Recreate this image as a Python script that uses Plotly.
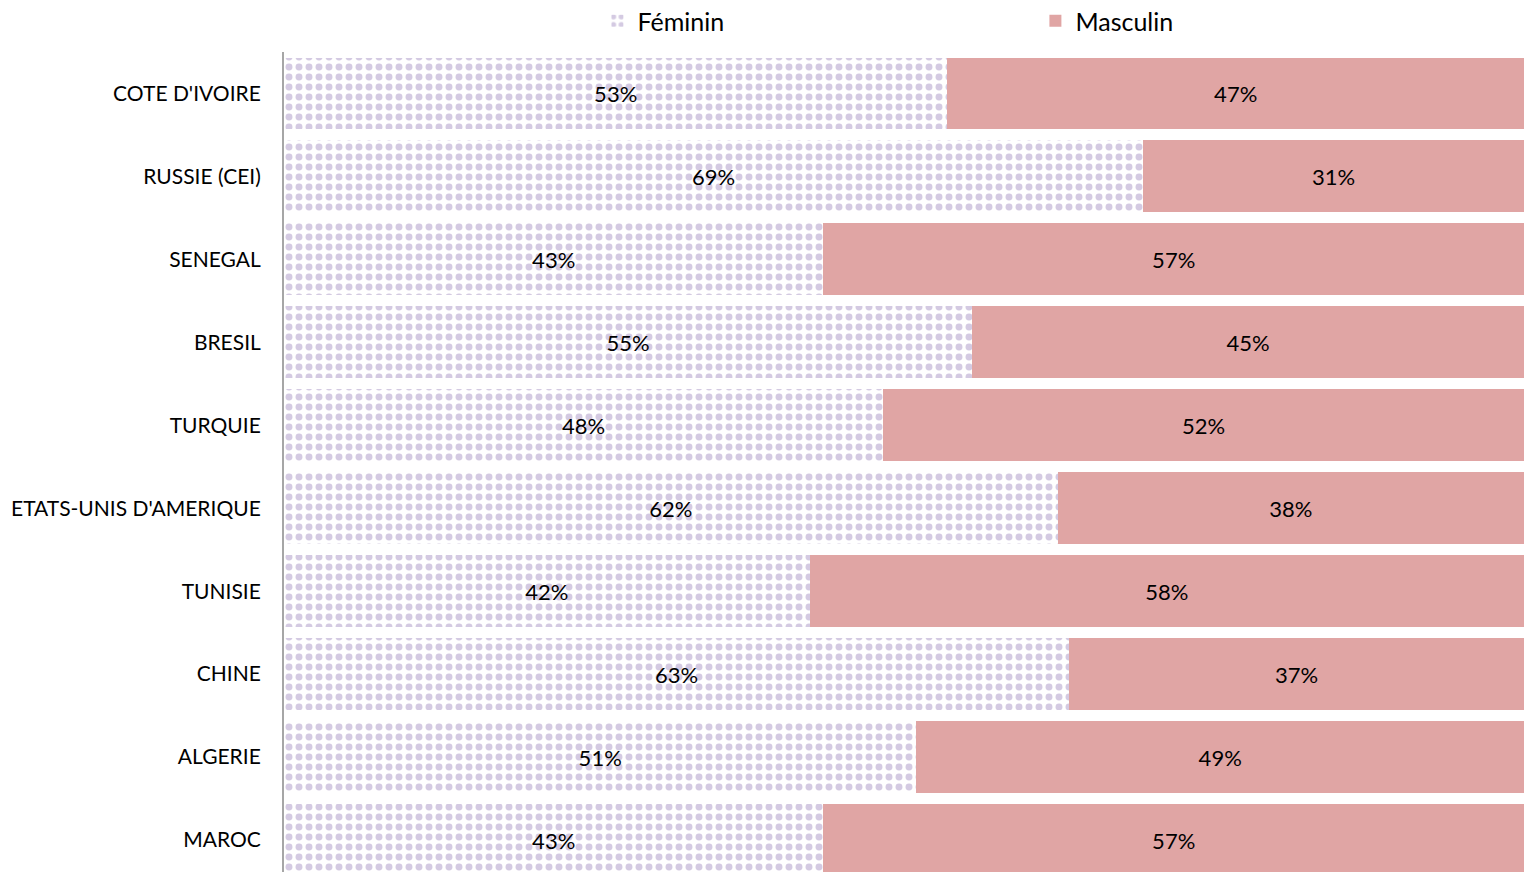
import plotly.graph_objects as go

categories = ["COTE D'IVOIRE", "RUSSIE (CEI)", "SENEGAL", "BRESIL", "TURQUIE",
              "ETATS-UNIS D'AMERIQUE", "TUNISIE", "CHINE", "ALGERIE", "MAROC"]
feminin = [53.5, 69.3, 43.5, 55.5, 48.3, 62.4, 42.4, 63.3, 51.0, 43.5]
masculin = [46.5, 30.7, 56.5, 44.5, 51.7, 37.6, 57.6, 36.7, 49.0, 56.5]
feminin_labels = ["53%", "69%", "43%", "55%", "48%", "62%", "42%", "63%", "51%", "43%"]
masculin_labels = ["47%", "31%", "57%", "45%", "52%", "38%", "58%", "37%", "49%", "57%"]

FONT = "Lato, 'Open Sans', sans-serif"

fig = go.Figure()
fig.add_trace(go.Bar(
    y=categories, x=feminin, orientation="h", name="Féminin",
    text=feminin_labels, textposition="inside", insidetextanchor="middle",
    textangle=0, textfont=dict(size=22, color="black", family=FONT),
    marker=dict(color="white", line=dict(width=0),
                pattern=dict(shape=".", fgcolor="#d4cae2", bgcolor="white",
                             size=10, solidity=0.38, fillmode="replace")),
    hoverinfo="skip",
))
fig.add_trace(go.Bar(
    y=categories, x=masculin, orientation="h", name="Masculin",
    text=masculin_labels, textposition="inside", insidetextanchor="middle",
    textangle=0, textfont=dict(size=22, color="black", family=FONT),
    marker=dict(color="#e0a5a4", line=dict(width=0)),
    hoverinfo="skip",
))

fig.update_layout(
    barmode="stack", bargap=0.133,
    width=1524, height=872,
    margin=dict(l=284, r=0, t=51.5, b=0),
    paper_bgcolor="white", plot_bgcolor="white",
    font=dict(family=FONT, color="black"),
    showlegend=True,
    legend=dict(orientation="h", xref="container", yref="container",
                x=0.6794, xanchor="center", y=1 - 21 / 872, yanchor="middle",
                font=dict(size=25, family=FONT), entrywidth=393,
                traceorder="normal", bgcolor="rgba(0,0,0,0)"),
)
fig.update_xaxes(range=[0, 100], showgrid=False, showticklabels=False,
                 zeroline=False, showline=False, fixedrange=True)
fig.update_yaxes(categoryorder="array", categoryarray=categories,
                 range=[9.5 - 9.5 / 83, -0.5], showgrid=False,
                 showline=True, linecolor="#a6a6a6", linewidth=2,
                 ticks="", ticklabelstandoff=17, fixedrange=True,
                 tickfont=dict(size=21, family=FONT, color="black"))

fig.write_html("out.html", config={"displayModeBar": False},
               post_script="document.body.style.margin='0';")
